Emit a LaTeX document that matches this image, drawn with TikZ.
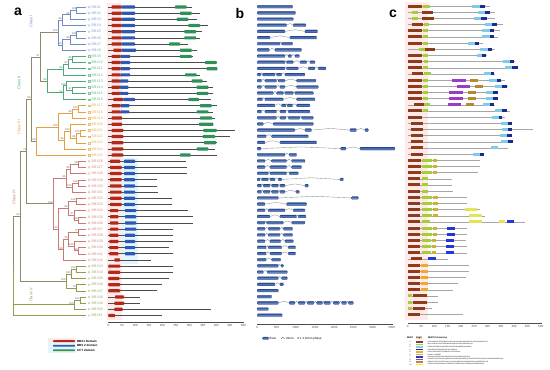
\documentclass[tikz,border=0pt]{standalone}
\usepackage{fontspec}
\setmainfont{Liberation Sans}
\usetikzlibrary{calc,shapes.geometric}

% couleurs des cinq classes de l'arbre
\definecolor{classeI}{HTML}{6F8EC0}
\definecolor{classeII}{HTML}{4DAA78}
\definecolor{classeIII}{HTML}{E2A23E}
\definecolor{classeIV}{HTML}{C97B72}
\definecolor{classeV}{HTML}{959A4E}
\definecolor{tronc}{HTML}{8E8A66}
% couleurs des domaines (a), des exons (b) et des motifs (c)
\definecolor{bbxun}{HTML}{B32819}
\definecolor{bbxdeux}{HTML}{2F58B5}
\definecolor{cct}{HTML}{2E9157}
\definecolor{exonbleu}{HTML}{2B4A8E}
\definecolor{exonclair}{HTML}{6284C2}
\definecolor{m1}{HTML}{8E3B1B}
\definecolor{m2}{HTML}{A6CE39}
\definecolor{m3}{HTML}{7FCBEA}
\definecolor{m4}{HTML}{1F2A8C}
\definecolor{m5}{HTML}{F0A830}
\definecolor{m6}{HTML}{C9B43A}
\definecolor{m7}{HTML}{2338D6}
\definecolor{m8}{HTML}{9A3DC4}
\definecolor{m9}{HTML}{B58A2C}
\definecolor{m10}{HTML}{E4E455}

\tikzset{
  branche/.style={line width=0.45pt},
  boot/.style={font=\fontsize{2.6}{3}\selectfont, text=black!65, inner sep=0.3pt, anchor=south east},
  gene/.style={font=\fontsize{3.6}{4}\selectfont, anchor=west, inner sep=0pt},
  symtribas/.style={regular polygon, regular polygon sides=3, shape border rotate=180, minimum size=2.6pt, inner sep=0pt, line width=0.25pt},
  symtri/.style={regular polygon, regular polygon sides=3, minimum size=2.6pt, inner sep=0pt, line width=0.25pt},
  symcarre/.style={rectangle, minimum size=1.8pt, inner sep=0pt, line width=0.25pt},
  symrond/.style={circle, minimum size=1.9pt, inner sep=0pt, line width=0.25pt},
  classe/.style={font=\fontsize{4}{4}\selectfont, rotate=90, inner sep=0pt},
  proteine/.style={line width=0.7pt, black!70},
  domaine/.style={rounded corners=0.6pt},
  intron/.style={line width=0.35pt, black!45},
  exon/.style={rounded corners=0.7pt, draw=exonbleu, line width=0.2pt,
    top color=exonbleu, bottom color=exonbleu, middle color=exonclair},
  motifligne/.style={line width=0.4pt, black!35},
  axe/.style={line width=0.4pt, black!70},
  graduation/.style={font=\fontsize{3}{3}\selectfont, text=black!70, anchor=north, inner sep=0.5pt},
  lettre/.style={font=\fontsize{14}{14}\selectfont\bfseries},
  legende/.style={font=\fontsize{3}{3}\selectfont\bfseries, anchor=west, inner sep=0.3pt},
  sequence/.style={font=\fontsize{1.6}{1.6}\selectfont, anchor=west, inner sep=0pt},
}

\begin{document}
\begin{tikzpicture}[x=1pt,y=-1pt]
  % cadre de la figure : 550 x 370
  \useasboundingbox (0,0) rectangle (550,370);

  % lettres des trois panneaux
  \node[lettre] (pa) at (18,12) {a};
  \node[lettre] (pb) at (240,13) {b};
  \node[lettre] (pc) at (393,14) {c};

  % bandes claires derrière les domaines
  \fill[pink!35] (106.5,3) rectangle (122,320);
  \fill[cyan!12] (122,158) rectangle (137.5,264);
  \fill[pink!35] (405,2) rectangle (428,320);

  % ---------------- panneau a : arbre ----------------
  % feuilles de l'arbre
  \foreach \i in {0,...,50}
    \coordinate (F\i) at (86,{7+6.17*\i});

  % noeuds internes : nom / abscisse / enfant 1 / enfant 2 / couleur / bootstrap
  \foreach \n/\abs/\a/\b/\coul/\bs in {
    n01/76.7/F0/F1/classeI/100, n02/70/n01/F2/classeI/98, n03/62/n02/F3/classeI/68,
    n45/76.7/F4/F5/classeI/100, n46/70/n45/F6/classeI/99, n47/62/n46/F7/classeI/95,
    nI/58/n03/n47/classeI/100,
    n89/72/F8/F9/classeII/88, n810/68/n89/F10/classeII/97, n811/63/n810/F11/classeII/99,
    n1314/72/F13/F14/classeII/97, n1214/66/F12/n1314/classeII/100, n1215/63/n1214/F15/classeII/51,
    nII/47/n811/n1215/classeII/82,
    n1617/78/F16/F17/classeIII/100, n1618/72/n1617/F18/classeIII/99,
    n2021/80/F20/F21/classeIII/100, n2022/76/n2021/F22/classeIII/86,
    n1922/70/F19/n2022/classeIII/100, n1923/64/n1922/F23/classeIII/96,
    n1623/58/n1618/n1923/classeIII/100, nIII/36/n1623/F24/classeIII/64,
    nA/40/nI/nII/tronc/97, nB/31/nA/nIII/tronc/56,
    n2526/78/F25/F26/classeIV/98, n2527/70/n2526/F27/classeIV/99,
    n2829/78/F28/F29/classeIV/100, n2830/72/n2829/F30/classeIV/100,
    n2530/66/n2527/n2830/classeIV/96,
    n3132/76/F31/F32/classeIV/100, n3435/78/F34/F35/classeIV/100,
    n3335/74/F33/n3435/classeIV/97, n3135/68/n3132/n3335/classeIV/82,
    n3637/78/F36/F37/classeIV/77, n3940/78/F39/F40/classeIV/90,
    n3840/74/F38/n3940/classeIV/100, n3640/68/n3637/n3840/classeIV/99,
    n3641/63/n3640/F41/classeIV/90, n3141/58/n3135/n3641/classeIV/62,
    nIV/53/n2530/n3141/classeIV/100,
    nC/26.7/nB/nIV/tronc/72,
    n4243/76/F42/F43/classeV/100, n4244/71/n4243/F44/classeV/100,
    n4546/76/F45/F46/classeV/76, nV1/66/n4244/n4546/classeV/100,
    nD/20/nC/nV1/tronc/54,
    n4748/80/F47/F48/classeV/100, nV2/74/n4748/F49/classeV/100}{
    \coordinate (m) at ($(\a)!0.5!(\b)$);
    \coordinate (\n) at (\abs,0 |- m);
    \draw[branche,\coul] (\n) |- (\a);
    \draw[branche,\coul] (\n) |- (\b);
    \node[boot] (b\n) at (\n) {\bs};
  }

  % racine : trois branches
  \coordinate (mr) at ($(nD)!0.5!(F50)$);
  \coordinate (racine) at (13,0 |- mr);
  \draw[branche,tronc] (racine) |- (nD);
  \draw[branche,classeV] (racine) |- (nV2);
  \draw[branche,classeV] (racine) |- (F50);

  % noms des classes
  \node[classe,text=classeI] (cI) at (31,21) {Class I};
  \node[classe,text=classeII] (cII) at (19,83) {Class II};
  \node[classe,text=classeIII] (cIII) at (19,127) {Class III};
  \node[classe,text=classeIV] (cIV) at (14,197) {Class IV};
  \node[classe,text=classeV] (cV) at (31,295) {Class V};

  % symboles et noms des gènes
  \foreach \i in {0,...,50}{
    \pgfmathtruncatemacro\num{\i+1}
    \ifnum\i<8 \def\coul{classeI}\def\forme{symtribas}\else
    \ifnum\i<16 \def\coul{classeII}\def\forme{symcarre}\else
    \ifnum\i<25 \def\coul{classeIII}\def\forme{symcarre}\else
    \ifnum\i<42 \def\coul{classeIV}\def\forme{symtri}\else
    \def\coul{classeV}\def\forme{symrond}\fi\fi\fi\fi
    \node[\forme,draw=\coul!70] (s\i) at (89,{7+6.17*\i}) {};
    \node[gene,text=\coul!85] (g\i) at (91.5,{7+6.17*\i}) {BBX\num};
  }

  % ---------------- panneau a : domaines ----------------
  % ligne / BBX1 / BBX2 / CCT / fin (0 = absent)
  \foreach \i/\ra/\rb/\ba/\bb/\ga/\gb/\fin in {
    0/111.7/121.7/121.7/135/175/186.7/191.7, 1/111.7/121.7/121.7/135/180/191.7/200,
    2/111.7/121.7/121.7/135/176.7/188.3/196.7, 3/111.7/121.7/121.7/135/188.3/200/208.3,
    4/111.7/121.7/121.7/135/184.3/196/201.7, 5/111.7/121.7/121.7/135/184.3/196/200,
    6/111.7/121.7/121.7/135/169/180/188.3, 7/113.3/121.7/121.7/136/180/191.7/196.7,
    8/111.7/120.7/120.7/130/180/191.7/193.3, 9/111.7/120.7/120.7/130/205/216.7/217.3,
    10/111.7/120.7/120.7/130/206.7/217.3/217.3, 11/111.7/120.7/120.7/130/185/196.7/200,
    12/111.7/120/120/128.3/191.7/202.7/206.7, 13/111.7/120/120/128.3/196.7/208.3/213.3,
    14/111.7/120/120/128.3/196.7/208.3/213.3, 15/113.3/123.3/123.3/135/188.3/199/210.7,
    16/111.7/120.7/120.7/129.3/200/211.7/216.7, 17/111.7/120.7/120.7/129.3/196.7/208.3/213.3,
    18/111.7/122/0/0/200/212/215, 19/111.7/122/0/0/199/213.3/213.3,
    20/111.7/123.3/0/0/203.3/216.7/235, 21/111.7/123.3/0/0/202.7/215/230,
    22/111.7/123.3/0/0/204/216/216.7, 23/111.7/123.3/0/0/196.7/208.3/215,
    24/111.7/123.3/0/0/180/190.7/216.7,
    25/110/120/124/135/0/0/186, 26/110/121.7/124/135/0/0/186.7,
    27/110/121.7/124/135/0/0/186.7, 28/110/121.7/124/135/0/0/156.7,
    29/110/121.7/124/135/0/0/156.7, 30/110/121.7/124/135/0/0/158.3,
    31/110/121.7/124/135/0/0/171.7, 32/110/121.7/124/135/0/0/171.7,
    33/110/118.3/125/136/0/0/188.3, 34/110/118.3/125/136/0/0/193.3,
    35/110/118.3/125/136/0/0/193.3, 36/110/118.3/125/136/0/0/172.7,
    37/109.3/118.3/125/135/0/0/172.7, 38/109.3/118.3/125/135/0/0/172.7,
    39/109.3/118.3/125/135/0/0/169.3, 40/109.3/118.3/125/135/0/0/172.7,
    41/114.3/120/0/0/0/0/150.7,
    42/108.3/120/0/0/0/0/172.7, 43/108.3/120/0/0/0/0/172.7,
    44/108.3/119.3/0/0/0/0/169.3, 45/108.3/120/0/0/0/0/161.7,
    46/108.3/120/0/0/0/0/157.3, 47/115/124/0/0/0/0/140,
    48/114.3/124.3/0/0/0/0/140, 49/114.3/122.7/0/0/0/0/210.7,
    50/108.3/115/0/0/0/0/161.7}{
    \pgfmathsetmacro\y{7+6.17*\i}
    \draw[proteine] (108.3,\y) -- (\fin,\y);
    \fill[domaine,bbxun] (\ra,\y-1.6) rectangle (\rb,\y+1.6);
    \ifdim\ba pt>0pt \fill[domaine,bbxdeux] (\ba,\y-1.6) rectangle (\bb,\y+1.6); \fi
    \ifdim\ga pt>0pt \fill[domaine,cct] (\ga,\y-1.6) rectangle (\gb,\y+1.6); \fi
  }

  % axe du panneau a (acides aminés)
  \begin{scope}[shift={(108.3,0)},x=0.27pt]
    \draw[axe] (0,322) -- (500,322);
    \foreach \t in {0,50,...,500}{
      \draw[axe] (\t,322) -- (\t,323.3);
      \node[graduation] (ta\t) at (\t,323.6) {\t};
    }
  \end{scope}

  % légende du panneau a
  \fill[pink!35] (48,337.5) rectangle (76,343.4);
  \fill[cyan!12] (48,343.4) rectangle (76,353);
  \fill[domaine,bbxun] (53,340.2) rectangle (75,342);
  \fill[domaine,bbxdeux] (53,344.8) rectangle (75,346.6);
  \fill[domaine,cct] (53,349.4) rectangle (75,351.2);
  \node[legende] (la1) at (76.5,341.1) {BBX1 Domain};
  \node[legende] (la2) at (76.5,345.7) {BBX 2 domain};
  \node[legende] (la3) at (76.5,350.3) {CCT domain};

  % ---------------- panneau b : structure des gènes ----------------
  \begin{scope}[shift={(257.3,0)},x=0.0384pt]
    \foreach \i/\exons in {
      0/{0/920}, 1/{0/998}, 2/{0/937}, 3/{0/764,937/1267}, 4/{0/720,1241/1571},
      5/{0/330,851/1545}, 6/{0/590,634/920}, 7/{0/312,460/1154},
      8/{0/720,807/894,981/1094}, 9/{0/720,764/937,1111/1285,1371/1502},
      10/{0/720,764/1068,1328/1502,1588/1788}, 11/{0/95,139/460,503/634,720/1241},
      12/{0/113,200/503,547/720,1024/1528}, 13/{0/113,200/503,590/720,1024/1588},
      14/{0/417,503/677,720/937,981/1458}, 15/{0/139,200/677,1024/1502},
      16/{0/460,634/746,781/920,1024/1371}, 17/{0/113,200/503,590/746,807/1371},
      18/{0/503,590/746,807/1111,1154/1458}, 19/{0/156,417/1458},
      20/{0/981,1241/1415,2413/2587,2804/2890}, 21/{0/243,373/1328},
      22/{0/200,590/1545}, 23/{0/95,2170/2309,2673/3585}, 24/{0/720,833/1024},
      25/{0/200,373/764,894/1241}, 26/{0/200,330/764,894/1154},
      27/{0/286,330/764,833/1068}, 28/{0/69,113/286,330/460,547/634,2153/2239},
      29/{0/113,156/330,373/547,590/720,1241/1328},
      30/{0/113,156/330,373/547,590/720,1007/1094}, 31/{0/547,2456/2630},
      32/{0/200,764/1285}, 33/{0/200,286/720,937/1241}, 34/{0/330,590/1024,1068/1267},
      35/{0/200,243/677,894/1241}, 36/{0/200,286/590,677/920}, 37/{0/200,286/590,677/920},
      38/{0/200,330/608,720/937}, 39/{0/243,286/634,807/998}, 40/{0/243,330/634,807/998},
      41/{0/243,373/608}, 42/{0/547,616/677}, 43/{0/156,260/781}, 44/{0/547,634/781},
      45/{0/460,590/677}, 46/{0/547}, 47/{0/373},
      48/{0/547,833/981,1068/1241,1302/1476,1545/1701,1736/1910,1979/2135,2196/2326,2370/2500},
      49/{0/286}, 50/{0/651}}{
      \pgfmathsetmacro\y{6.7+6.17*\i}
      \foreach \a/\b [remember=\b as \prec (initially 0)] in \exons {
        \ifnum\a>0 \draw[intron] (\prec,\y) -- ({(\prec+\a)/2},\y-1.7) -- (\a,\y); \fi
        \draw[exon] (\a,\y-1.4) rectangle (\b,\y+1.4);
      }
    }
    % axe du panneau b (paires de bases)
    \draw[axe] (0,324) -- (3500,324);
    \foreach \t in {0,500,...,3500}{
      \draw[axe] (\t,324) -- (\t,325.3);
      \node[graduation] (tb\t) at (\t,325.6) {\t};
    }
  \end{scope}

  % légende du panneau b
  \draw[exon] (262.7,337) rectangle (268.5,339.6);
  \node[legende,font=\fontsize{3}{3}\selectfont] (lb1) at (269,338.3) {Exon};
  \draw[intron,black!70] (281,338.8) -- (282.8,337.4) -- (284.6,338.8);
  \coordinate (li) at (284.6,338.8);
  \node[legende,font=\fontsize{3}{3}\selectfont] (lb2) at (285.5,338.3) {Intron};
  \node[legende,font=\fontsize{3}{3}\selectfont] (lb3) at (297,338.3) {0 1 2 intron phase};

  % ---------------- panneau c : motifs conservés ----------------
  \begin{scope}[shift={(407.7,0)},x=0.266pt]
    \foreach \i/\fin/\motifs in {
      0/309.5/{1/0/52.6,2/59/84,3/243/272,4/272/291},
      1/328/{2/15/37.6,1/52.6/96.5,3/266/291,4/291/309.5},
      2/328/{2/15/37.6,1/55/97,3/250.6/276,4/276/297},
      3/359.6/{1/15/59,2/62.7/81,3/291/318,4/318/335},
      4/347/{1/0/52.6,2/59/78,3/281/309.5,4/309.5/326},
      5/341/{1/0/52.6,2/59/78,3/281/309.5,4/309.5/326},
      6/284/{1/0/52.6,2/59/78,3/225.5/253,4/253/268},
      7/328/{2/42.6/65,1/65/103,3/272/301,4/301/316},
      8/297/{1/0/52.6,2/59/78,3/259/281,4/281/293},
      9/403/{1/0/52.6,2/62.7/78,3/359.6/385,4/385/401},
      10/416/{1/0/52.6,2/59/78,3/366/393,4/393/413.5},
      11/328/{1/15/59,2/62.7/88,3/288/313,4/313/326},
      12/366/{1/0/52.6,2/59/78,8/168/218,9/234/266,3/307/334.5,4/334.5/351},
      13/378/{1/0/52.6,2/59/78,8/184/234,9/253/284,3/328/356,4/356/372},
      14/341/{1/0/52.6,2/59/78,8/155/209,9/225.5/257,3/293/319.5,4/319.5/338},
      15/341/{1/0/52.6,2/59/78,8/155/209,9/225.5/257,3/293/319.5,4/319.5/338},
      16/328/{1/25/62,2/62.7/84,8/150/200,9/218/250.6,3/284/309.5,4/309.5/326},
      17/385/{1/0/52.6,2/59/78,3/328/356,4/356/372},
      18/366/{1/0/52.6,3/316/344.5,4/344.5/356},
      19/385/{1/12.5/59,3/351/378,4/378/393},
      20/472/{1/12.5/59,3/353/378,4/378/391},
      21/391/{1/12.5/59,3/347/372,4/372/391},
      22/397/{1/12.5/59,3/351/378,4/378/397},
      23/378/{1/12.5/59,3/313/341},
      24/284/{1/12.5/59,3/247/272,4/272/288},
      25/272/{1/0/50,2/55/93,6/95/109}, 26/272/{1/0/50,2/55/93,6/95/109},
      27/266/{1/0/50,2/55/93,6/95/109},
      28/166/{1/0/46,2/55/78}, 29/166/{1/0/46,2/55/78}, 30/172/{1/0/46,2/55/78},
      31/222/{1/0/46,2/55/93,6/95/113}, 32/222/{1/0/46,2/55/93,6/95/113},
      33/272/{1/0/46,2/55/93,6/95/113,10/215.5/259},
      34/291/{1/0/46,2/55/93,6/95/113,10/230.5/281},
      35/441/{1/0/46,2/55/84,10/230.5/281,10/344.5/366,7/372/401},
      36/222/{1/0/46,2/55/93,6/95/109,7/149/178},
      37/222/{1/0/46,2/55/93,6/95/109,7/149/178},
      38/218/{1/0/46,2/55/88,6/90/105,7/144/174},
      39/222/{1/0/46,2/55/88,6/90/105,7/144/174},
      40/222/{1/0/46,2/55/88,6/90/105,7/144/174},
      41/150/{1/12.5/55,7/78/106.5},
      42/230.5/{1/0/46,5/50/75}, 43/230.5/{1/0/46,5/50/75}, 44/218/{1/0/46,5/50/75},
      45/188/{1/0/46,5/50/75}, 46/172/{1/0/46,5/50/75},
      47/115/{2/0/17.5,1/21/71}, 48/115/{2/0/17.5,1/21/71}, 49/90/{2/0/17.5,1/21/65},
      50/209/{1/0/46}}{
      \pgfmathsetmacro\y{6+6.17*\i}
      \draw[motifligne] (0,\y) -- (\fin,\y);
      \foreach \m/\a/\b in \motifs
        \fill[m\m] (\a,\y-1.5) rectangle (\b,\y+1.5);
    }
    % axe du panneau c (acides aminés)
    \draw[axe] (0,322.7) -- (500,322.7);
    \foreach \t in {0,50,...,500}{
      \draw[axe] (\t,322.7) -- (\t,324);
      \node[graduation] (tc\t) at (\t,324.3) {\t};
    }
  \end{scope}

  % légende du panneau c : motif / logo / séquence consensus
  \node[legende,font=\fontsize{2.4}{2.4}\selectfont\bfseries] (hMotif) at (406.5,337.7) {Motif};
  \node[legende,font=\fontsize{2.4}{2.4}\selectfont\bfseries,fill=pink!60] (hLogo) at (415.5,337.7) {Logo};
  \node[legende,font=\fontsize{2.4}{2.4}\selectfont\bfseries] (hCons) at (427.5,337.7) {Motif Consensus};
  \foreach \k/\seq in {
    1/CHLCGKEAAVFCRADEAALCLSCDAKVHSANPLASRHERVPLCEVCEQAPAAVTCK,
    2/WCLLCRERLVCRSCVEAHEAHPHQRLVPLAPLLSSRSAGLSS,
    3/RESRVLRYREKRKARKFEKTIRYASRKAYAEKRPRIKGRFAK,
    4/EARVMRYKEKRKRRKFDKTIRYASRKAY,
    5/SSCHLCGEAAAFFCRADDAPLCLSCDRRVH,
    6/DLNAPLLSSEDEL,
    7/SPCDHLIRSTPPPSPPLPEMNTSFKPSTSSSNSDSSFGPQ,
    8/GSGCSSTQETSSSLSYPQESAASVSPSDFCWSEDELLLPPNSTSPKSFFPPSPASLGHSSPSLSSRESQPL,
    9/MDRASLTGFVPLPPATTANGLLPGVDLDAEASPDSNSGSAESSSLHKNSMFPFSGAT,
    10/PSNFLLEHSQSSRDNSSLCAIDRFPSYSSEELPNLSHFMPMQSGSNRSIVAGQ}{
    \pgfmathsetmacro\y{339.5+2.5*\k}
    \node[sequence,font=\fontsize{1.8}{1.8}\selectfont] (n\k) at (409.5,\y) {\k};
    \fill[m\k] (416,\y-0.9) rectangle (423,\y+0.9);
    \node[sequence] (q\k) at (427.5,\y) {\seq};
  }
\end{tikzpicture}
\end{document}
